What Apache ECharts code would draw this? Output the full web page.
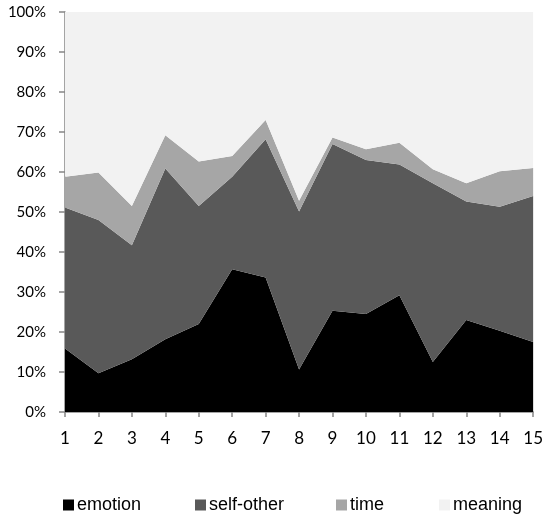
<!DOCTYPE html>
<html>
<head>
<meta charset="utf-8">
<script src="https://cdn.jsdelivr.net/npm/echarts@6/dist/echarts.min.js"></script>
<style>html,body{margin:0;padding:0;background:#fff}#c{width:546px;height:517px}</style>
</head>
<body>
<div id="c"></div>
<script>
var categories = ['1','2','3','4','5','6','7','8','9','10','11','12','13','14','15'];
var emotion   = [15.9, 9.7, 13.2, 18.2, 22.0, 35.7, 33.6, 10.6, 25.3, 24.5, 29.2, 12.5, 23.0, 20.3, 17.5];
var selfOther = [35.2, 38.3, 28.5, 42.7, 29.5, 23.1, 34.6, 39.5, 41.7, 38.5, 32.7, 44.7, 29.6, 31.0, 36.5];
var time      = [7.7, 11.9, 9.8, 8.3, 11.1, 5.2, 4.8, 2.7, 1.6, 2.7, 5.4, 3.5, 4.6, 8.9, 7.0];
var meaning   = [41.2, 40.1, 48.5, 30.8, 37.4, 36.0, 27.0, 47.2, 31.4, 34.3, 32.7, 39.3, 42.8, 39.8, 39.0];
var seriesNames = ['emotion', 'self-other', 'time', 'meaning'];
var colors = ['#000000', '#595959', '#a6a6a6', '#f2f2f2'];
var dataSets = [emotion, selfOther, time, meaning];

var chart = echarts.init(document.getElementById('c'), null, {renderer: 'canvas'});
var legendLefts = [58, 190, 331, 434];
var option = {
  animation: false,
  backgroundColor: '#ffffff',
  color: colors,
  grid: {left: 65, right: 12, top: 12, bottom: 105, containLabel: false},
  legend: seriesNames.map(function (n, i) {
    return {
      data: [n], left: legendLefts[i], top: 491,
      itemWidth: 11, itemHeight: 11, icon: 'rect',
      textStyle: {fontFamily: 'Liberation Sans', fontSize: 18, color: '#000', padding: [0,0,0,-2]}
    };
  }),
  xAxis: {
    type: 'category', data: categories, boundaryGap: false,
    axisLine: {lineStyle: {color: '#868686', width: 1.5}},
    axisTick: {show: true, length: 5, lineStyle: {color: '#868686', width: 1.5}},
    axisLabel: {fontFamily: 'Lato', fontSize: 17, color: '#000', margin: 18, interval: 0},
    splitLine: {show: false}
  },
  yAxis: {
    type: 'value', min: 0, max: 100, interval: 10,
    axisLine: {show: true, lineStyle: {color: '#868686', width: 1.5}},
    axisTick: {show: true, length: 6, lineStyle: {color: '#868686', width: 1.5}},
    axisLabel: {fontFamily: 'Lato', fontSize: 15, color: '#000', margin: 19, formatter: '{value}%'},
    splitLine: {show: false}
  },
  series: seriesNames.map(function (n, i) {
    return {
      name: n, type: 'line', stack: 'total', data: dataSets[i],
      symbol: 'none', showSymbol: false,
      lineStyle: {width: 0},
      areaStyle: {color: colors[i], opacity: 1},
      itemStyle: {color: colors[i]},
      z: 2
    };
  })
};
chart.setOption(option);
</script>
</body>
</html>
